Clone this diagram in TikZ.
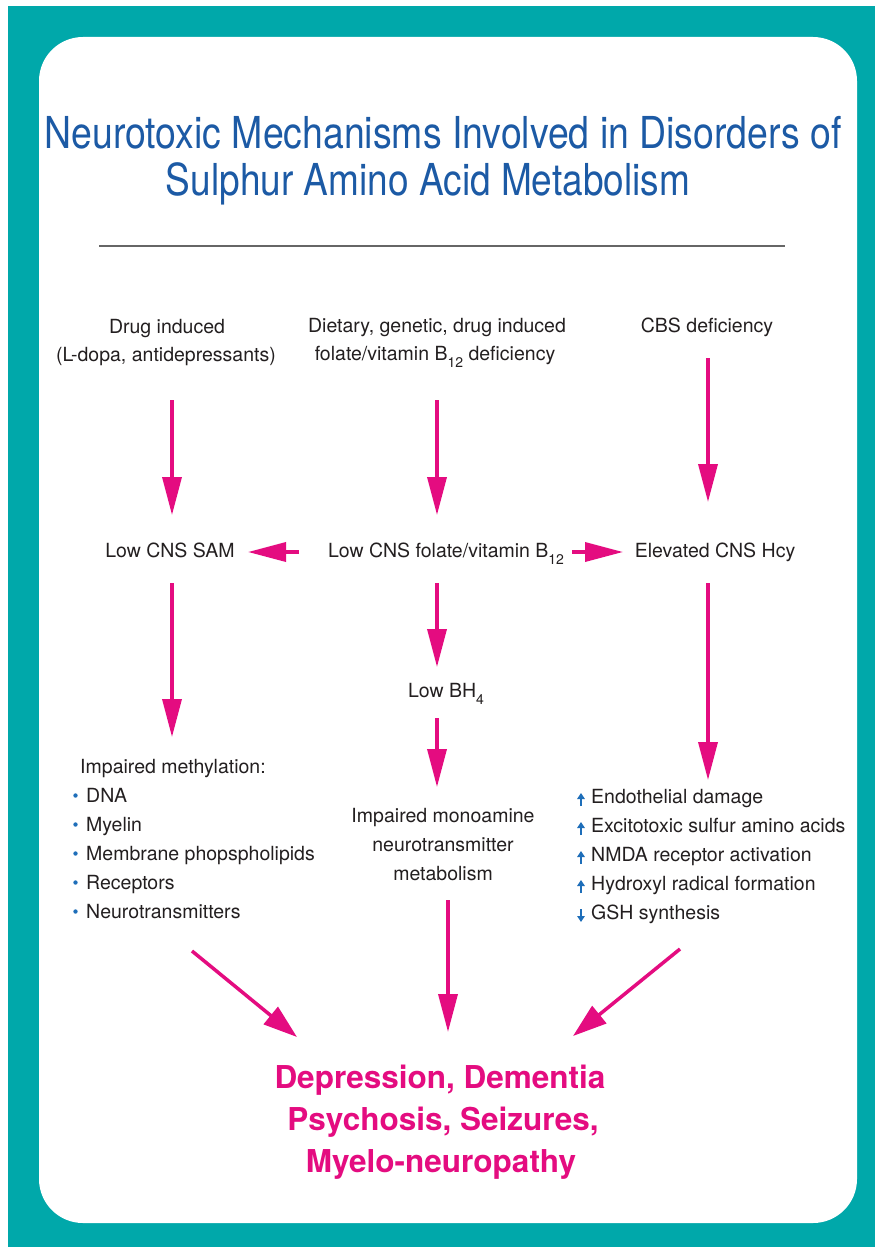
\documentclass[tikz,border=0pt]{standalone}
\usepackage{fontspec}
\setmainfont{TeX Gyre Heros}
\usetikzlibrary{arrows.meta}
\definecolor{teal1}{RGB}{0,168,170}
\definecolor{mag}{RGB}{228,12,128}
\definecolor{tblue}{RGB}{28,90,165}
\definecolor{txt}{RGB}{35,31,32}
\definecolor{bblue}{RGB}{30,110,185}
\newcommand\lowsub[1]{\raisebox{-0.7ex}{\fontsize{14}{14}\selectfont #1}}
\begin{document}
\begin{tikzpicture}[x=1pt,y=-1pt,
  lbl/.style={font=\fontsize{19.5}{24}\selectfont, text=txt, inner sep=0pt, anchor=base},
  lblw/.style={lbl, anchor=base west},
  ttl/.style={font=\fontsize{44}{50}\selectfont, text=tblue, inner sep=0pt, anchor=base},
  outc/.style={font=\bfseries\fontsize{31.5}{36}\selectfont, text=mag, inner sep=0pt, anchor=base},
  arr/.style={draw=mag, line width=3.5pt, -{Triangle[length=38pt,width=19pt]}},
  darr/.style={draw=mag, line width=3.5pt, -{Triangle[length=34pt,width=22pt]}},
  bul/.style={fill=bblue},
  uarr/.style={draw=bblue, line width=2pt, -{Triangle[length=6pt,width=7.5pt]}}]
\useasboundingbox (0,0) rectangle (875,1247);
\fill[white] (0,0) rectangle (875,1247);
\fill[teal1] (8,6) rectangle (875,1247);
\fill[white, rounded corners=44pt] (39,37) rectangle (857,1223);

% title
\node[ttl] (t1) at (443,148) {\resizebox{797pt}{\height}{Neurotoxic Mechanisms Involved in Disorders of}};
\node[ttl] (t2) at (428,195) {\resizebox{524pt}{\height}{Sulphur Amino Acid Metabolism}};
\draw[line width=2pt, draw=black!60] (99,246) -- (785,246);

% headers
\node[lbl] (h1a) at (167,333) {Drug induced};
\node[lbl] (h1b) at (166,361) {(L-dopa, antidepressants)};
\node[lbl] (h2a) at (437,332) {Dietary, genetic, drug induced};
\node[lbl] (h2b) at (435,360) {folate/vitamin B\lowsub{12} deficiency};
\node[lbl] (h3) at (707,332) {CBS deficiency};

% middle row
\node[lbl] (m1) at (170,557) {Low CNS SAM};
\node[lbl] (m2) at (446,557) {Low CNS folate/vitamin B\lowsub{12}};
\node[lbl] (m3) at (715,557) {Elevated CNS Hcy};

\node[lbl] (bh) at (446,697) {Low BH\lowsub{4}};

\node[lbl] (im1) at (443,822) {Impaired monoamine};
\node[lbl] (im2) at (443,851) {neurotransmitter};
\node[lbl] (im3) at (443,880) {metabolism};

% left list
\node[lblw] (meth) at (80,773) {Impaired methylation:};
\foreach \t [count=\i from 0] in {DNA,Myelin,Membrane phopspholipids,Receptors,Neurotransmitters}{
  \node[lblw] (l\i) at (86,{802+29*\i}) {\t};
  \fill[bul] (75.5,{795.5+29*\i}) circle (2.2pt);
}

% right list
\foreach \t [count=\i from 0] in {Endothelial damage,Excitotoxic sulfur amino acids,NMDA receptor activation,Hydroxyl radical formation,GSH synthesis}{
  \node[lblw] (r\i) at (591,{803+29*\i}) {\t};
}
\foreach \i in {0,1,2,3}{
  \draw[uarr] (581,{806+29*\i}) -- (581,{793+29*\i});
}
\draw[uarr] (581,{793+29*4}) -- (581,{806+29*4});

% outcome
\node[outc] (o1) at (440,1088) {Depression, Dementia};
\node[outc] (o2) at (443,1130) {Psychosis, Seizures,};
\node[outc] (o3) at (441,1172) {Myelo-neuropathy};

% connector end points
\coordinate (a1s) at (172,400); \coordinate (a1e) at (172,515);
\coordinate (a2s) at (437,400); \coordinate (a2e) at (437,515);
\coordinate (a3s) at (708,358); \coordinate (a3e) at (708,502);
\coordinate (hls) at (299,552); \coordinate (hle) at (248,552);
\coordinate (hrs) at (572,552); \coordinate (hre) at (623,552);
\coordinate (b1s) at (172,583); \coordinate (b1e) at (172,737);
\coordinate (b2s) at (437,583); \coordinate (b2e) at (437,667);
\coordinate (b3s) at (708,583); \coordinate (b3e) at (708,780);
\coordinate (c2s) at (437,718); \coordinate (c2e) at (437,787);
\coordinate (d1s) at (192,951); \coordinate (d1e) at (297,1037);
\coordinate (d2s) at (448,900); \coordinate (d2e) at (448,1032);
\coordinate (d3s) at (680,949); \coordinate (d3e) at (573,1036);

\draw[arr] (a1s) -- (a1e);
\draw[arr] (a2s) -- (a2e);
\draw[arr] (a3s) -- (a3e);
\draw[arr] (hls) -- (hle);
\draw[arr] (hrs) -- (hre);
\draw[arr] (b1s) -- (b1e);
\draw[arr] (b2s) -- (b2e);
\draw[arr] (b3s) -- (b3e);
\draw[arr] (c2s) -- (c2e);
\draw[darr] (d1s) -- (d1e);
\draw[arr] (d2s) -- (d2e);
\draw[darr] (d3s) -- (d3e);
\end{tikzpicture}
\end{document}
